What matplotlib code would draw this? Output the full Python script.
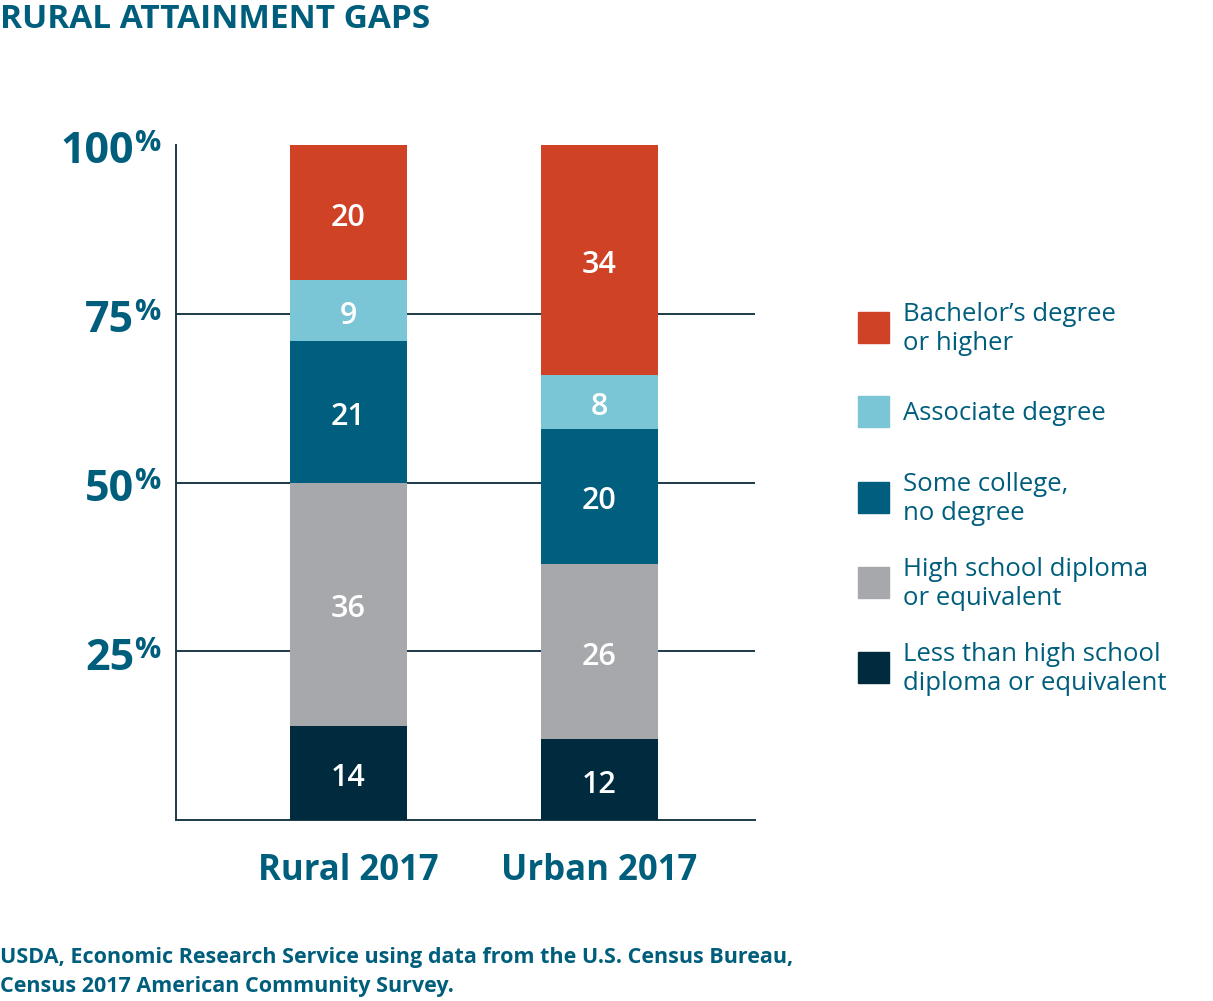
import matplotlib.pyplot as plt
from matplotlib.patches import Rectangle

plt.rcParams['font.family'] = ['Open Sans', 'DejaVu Sans']

# data
groups = ['Rural 2017', 'Urban 2017']
categories = ['Less than high school\ndiploma or equivalent',
              'High school diploma\nor equivalent',
              'Some college,\nno degree',
              'Associate degree',
              'Bachelor\u2019s degree\nor higher']
values = {
    'Rural 2017': [14, 36, 21, 9, 20],
    'Urban 2017': [12, 26, 20, 8, 34],
}
colors = ['#002b3e', '#a7a8ac', '#005f7e', '#7ac5d6', '#d04225']
yticks = [25, 50, 75, 100]

teal = '#005e7d'
line_c = '#1c3a4a'

W, H = 1213, 1001
fig = plt.figure(figsize=(W / 100, H / 100), dpi=100)
ax = fig.add_axes([176 / W, 1 - 820 / H, 579 / W, 675 / H])

for i, g in enumerate(groups):
    bottom = 0
    for v, c in zip(values[g], colors):
        ax.bar(i, v, bottom=bottom, width=0.466, color=c, zorder=3)
        ax.text(i, bottom + v / 2 - 0.8, str(v), ha='center', va='center',
                color='white', fontsize=22, fontweight='semibold', zorder=4)
        bottom += v

for y in yticks[:-1]:
    ax.axhline(y, color=line_c, lw=1.4, zorder=1)

ax.set_xlim(-0.687, 1.62)
ax.set_ylim(0, 100)
ax.set_xticks([])
ax.set_yticks([])
for s in ['top', 'right']:
    ax.spines[s].set_visible(False)
for s in ['left', 'bottom']:
    ax.spines[s].set_color(line_c)
    ax.spines[s].set_linewidth(1.4)

# y tick labels with small raised percent sign
ytr = ax.get_yaxis_transform()
for y in yticks:
    ax.text(-0.072, y - 1.0, str(y), transform=ytr, ha='right', va='center',
            fontsize=31, fontweight='bold', color=teal, clip_on=False)
    ax.text(-0.072, y + 2.3, '%', transform=ytr, ha='left', va='top',
            fontsize=21, fontweight='bold', color=teal, clip_on=False)

# category labels
xtr = ax.get_xaxis_transform()
for i, g in enumerate(groups):
    ax.text(i, -0.075, g, transform=xtr, ha='center', va='center',
            fontsize=25, fontweight='bold', color=teal, clip_on=False)

# title
fig.text(0 / W, 1 - 19 / H, 'RURAL ATTAINMENT GAPS', ha='left', va='center',
         fontsize=24, fontweight='bold', color=teal)

# legend
leg_y = [667, 582, 497, 411, 327]
for lab, c, yc in zip(categories, colors, leg_y):
    fig.add_artist(Rectangle((858 / W, 1 - (yc + 15.5) / H), 31 / W, 31 / H,
                             transform=fig.transFigure, color=c))
    fig.text(903 / W, 1 - (yc + 2) / H, lab, ha='left', va='center', fontsize=18.5,
             color=teal, linespacing=1.25)

# source
fig.text(0 / W, 1 - 972 / H,
         'USDA, Economic Research Service using data from the U.S. Census Bureau,\n'
         'Census 2017 American Community Survey.',
         ha='left', va='center', fontsize=15.5, fontweight='bold', color=teal,
         linespacing=1.45)

fig.savefig('out.png', dpi=100)
